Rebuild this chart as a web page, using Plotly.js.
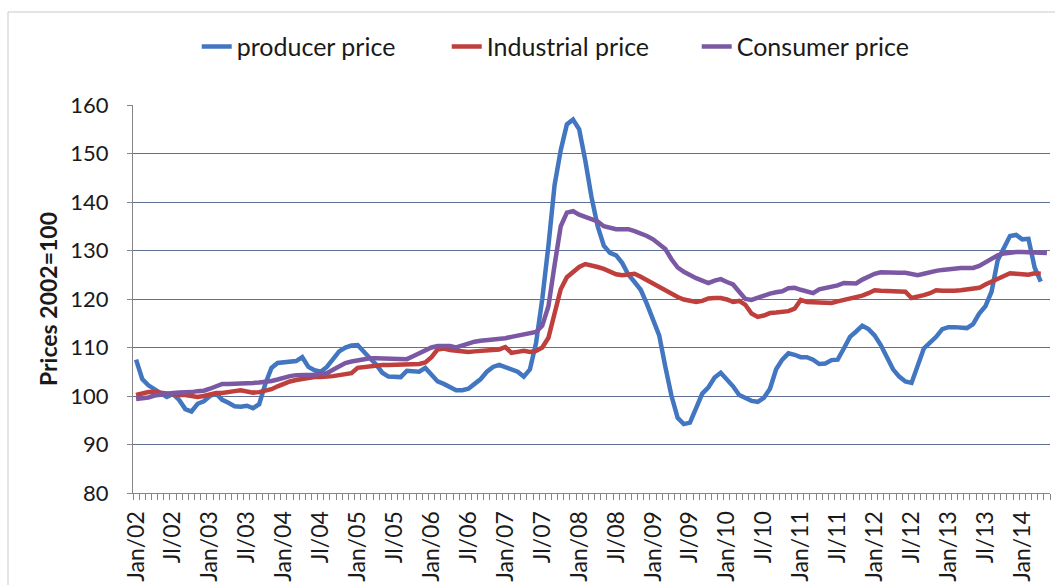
<!DOCTYPE html>
<html>
<head>
<meta charset="utf-8">
<script src="https://cdn.plot.ly/plotly-3.0.1.min.js"></script>
<style>
  html, body { margin: 0; padding: 0; background: #fff; }
  #chart { width: 1055px; height: 585px; }
</style>
</head>
<body>
<div id="chart"></div>
<script>
// monthly categories Jan/02 .. May/14
const monthNames = ['Jan', 'Feb', 'Mar', 'Apr', 'May', 'Jun', 'Jl', 'Aug', 'Sep', 'Oct', 'Nov', 'Dec']
const years = ['02', '03', '04', '05', '06', '07', '08', '09', '10', '11', '12', '13', '14']
const months = []
years.forEach(yy => monthNames.forEach(m => months.push(m + '/' + yy)))
months.length = 149

// only January and July are labelled
const tickLabels = months.map(m => (m.startsWith('Jan') || m.startsWith('Jl')) ? m : '')

const producerPrice = [
  107.5, 103.5, 102.2, 101.3, 100.6, 99.8, 100.4, 99.2, 97.3, 96.8, 98.4, 98.9,
  100.0, 100.5, 99.2, 98.6, 97.9, 97.8, 98.0, 97.5, 98.3, 102.5, 105.8, 106.8,
  107.0, 107.0, 107.2, 108.0, 106.0, 105.3, 105.0, 106.0, 107.8, 109.2, 110.0, 110.4,
  110.5, 109.0, 107.8, 106.5, 104.8, 104.0, 103.9, 103.9, 105.2, 105.2, 105.0, 105.8,
  104.5, 103.0, 102.5, 101.8, 101.2, 101.2, 101.5, 102.5, 103.5, 105.0, 106.0, 106.4,
  106.0, 105.6, 105.0, 104.0, 105.5, 111.0, 120.0, 131.0, 143.5, 150.7, 156.0, 157.0,
  155.0, 148.5, 141.0, 135.0, 131.0, 129.5, 129.0, 127.4, 125.0, 123.5, 121.9, 119.0,
  115.5, 112.5, 106.0, 100.0, 95.5, 94.2, 94.5, 97.5, 100.5, 101.8, 103.8, 104.8,
  103.5, 102.0, 100.2, 99.5, 99.0, 98.8, 99.6, 101.5, 105.5, 107.5, 108.8, 108.5,
  108.0, 108.0, 107.5, 106.6, 106.7, 107.4, 107.5, 109.8, 112.2, 113.3, 114.5, 113.8,
  112.5, 110.5, 108.2, 105.5, 104.0, 103.0, 102.7, 106.0, 109.8, 111.0, 112.2, 113.8,
  114.2, 114.2, 114.0, 114.0, 114.8, 117.0, 118.5, 121.5, 128.0, 130.5, 133.0, 133.2,
  132.3, 132.4, 126.5, 123.6
]

const industrialPrice = [
  100.2, 100.6, 100.8, 100.8, 100.6, 100.4, 100.2, 100.2, 100.2, 100.0, 99.8, 100.0,
  100.4, 100.6, 100.6, 100.7, 101.0, 101.2, 101.0, 100.7, 100.8, 101.0, 101.4, 102.0,
  102.6, 103.0, 103.3, 103.5, 103.9, 103.9, 103.9, 103.9, 104.1, 104.3, 104.5, 104.7,
  105.8, 106.0, 106.0, 106.2, 106.4, 106.4, 106.4, 106.4, 106.4, 106.4, 106.6, 106.9,
  108.0, 109.6, 109.8, 109.5, 109.3, 109.2, 109.1, 109.2, 109.3, 109.3, 109.5, 109.6,
  110.1, 108.9, 109.1, 109.3, 109.1, 109.3, 110.0, 112.0, 117.0, 122.0, 124.5, 125.5,
  126.6, 127.2, 127.0, 126.6, 126.2, 125.6, 125.1, 124.9, 125.1, 125.2, 124.6, 123.9,
  123.3, 122.6, 121.8, 121.0, 120.4, 119.9, 119.6, 119.4, 119.6, 120.1, 120.2, 120.2,
  119.9, 119.4, 119.6, 118.8, 117.0, 116.3, 116.6, 117.1, 117.2, 117.3, 117.5, 118.0,
  119.8, 119.4, 119.3, 119.2, 119.2, 119.2, 119.5, 119.8, 120.0, 120.3, 120.7, 121.2,
  121.8, 121.7, 121.6, 121.6, 121.6, 121.5, 120.2, 120.4, 120.8, 121.2, 121.8, 121.7,
  121.6, 121.7, 121.8, 121.9, 122.0, 122.3, 123.0, 123.6, 124.2, 124.8, 125.3, 125.2,
  125.0, 125.0, 125.3, 125.2
]

const consumerPrice = [
  99.4, 99.5, 99.7, 100.1, 100.3, 100.6, 100.6, 100.7, 100.7, 100.8, 101.0, 101.1,
  101.5, 102.0, 102.5, 102.5, 102.5, 102.5, 102.6, 102.7, 102.8, 102.9, 103.1, 103.4,
  103.8, 104.1, 104.3, 104.3, 104.3, 104.4, 104.6, 104.7, 105.4, 106.2, 106.8, 107.1,
  107.4, 107.7, 107.8, 107.8, 107.8, 107.8, 107.8, 107.7, 107.6, 108.2, 108.8, 109.6,
  110.0, 110.3, 110.3, 110.3, 110.0, 110.4, 111.0, 111.2, 111.4, 111.5, 111.5, 111.6,
  111.9, 112.2, 112.4, 112.6, 112.8, 113.2, 114.5, 118.5, 127.0, 135.0, 137.8, 138.1,
  137.4, 137.0, 136.4, 136.0, 135.0, 134.6, 134.4, 134.4, 134.4, 134.0, 133.6, 133.0,
  132.3, 131.4, 130.3, 128.2, 126.5, 125.6, 124.9, 124.3, 123.8, 123.3, 123.8, 124.1,
  123.5, 123.0, 121.5, 120.0, 119.8, 120.3, 120.8, 121.1, 121.4, 121.6, 122.2, 122.3,
  121.9, 121.5, 121.2, 122.0, 122.3, 122.4, 122.8, 123.3, 123.2, 123.2, 124.0, 124.6,
  125.2, 125.5, 125.4, 125.4, 125.4, 125.4, 125.1, 124.9, 125.2, 125.6, 125.8, 126.0,
  126.2, 126.3, 126.4, 126.4, 126.4, 126.8, 127.6, 128.4, 129.0, 129.4, 129.6, 129.7,
  129.7, 129.7, 129.7, 129.6, 129.5
]

const config = {
  responsive: false,
  displayModeBar: false,
  displaylogo: false,
  staticPlot: true
}

const font = 'Lato, "Open Sans", "DejaVu Sans", sans-serif'

const makeTrace = (values, name, color) => {
  return {
    x: months.slice(0, values.length),
    y: values,
    type: 'scatter',
    mode: 'lines',
    name: name,
    line: { color: color, width: 4.5, shape: 'linear' },
    hoverinfo: 'skip'
  }
}

const data = [
  makeTrace(producerPrice, 'producer price', '#4276c0'),
  makeTrace(industrialPrice, 'Industrial price', '#bf3f3d'),
  makeTrace(consumerPrice, 'Consumer price', '#7b58a3')
]

const layout = {
  width: 1055,
  height: 585,
  margin: { l: 133, r: 5, t: 105, b: 92 },
  paper_bgcolor: '#fff',
  plot_bgcolor: '#fff',
  font: { family: font, color: '#1a1a1a', size: 22 },
  showlegend: true,
  legend: {
    orientation: 'h',
    x: 0.0695,
    xanchor: 'left',
    y: 1.15,
    yanchor: 'middle',
    entrywidth: 205,
    entrywidthmode: 'pixels',
    font: { family: font, size: 25, color: '#1a1a1a' },
    bgcolor: 'rgba(0,0,0,0)'
  },
  xaxis: {
    type: 'category',
    categoryorder: 'array',
    categoryarray: months,
    range: [-0.5, months.length - 0.5],
    tickmode: 'array',
    tickvals: months,
    ticktext: tickLabels,
    tickson: 'boundaries',
    ticks: 'outside',
    ticklen: 6,
    tickcolor: '#868686',
    tickwidth: 1,
    tickangle: -90,
    ticklabelstandoff: 8,
    tickfont: { family: font, size: 23, color: '#1a1a1a' },
    showgrid: false,
    showline: true,
    linecolor: '#868686',
    linewidth: 1,
    zeroline: false,
    automargin: false,
    fixedrange: true
  },
  yaxis: {
    range: [80, 160],
    dtick: 10,
    tick0: 80,
    ticks: 'outside',
    ticklen: 5,
    tickcolor: '#868686',
    ticklabelstandoff: 14,
    tickfont: { family: font, size: 22, color: '#1a1a1a' },
    showgrid: true,
    gridcolor: '#5f6f96',
    gridwidth: 1,
    showline: true,
    linecolor: '#868686',
    linewidth: 1,
    zeroline: false,
    automargin: false,
    fixedrange: true,
    title: {
      text: '<b>Prices 2002=100</b>',
      font: { family: font, size: 23, color: '#1a1a1a' },
      standoff: 6
    }
  },
  // outer chart frame, partly cut by the picture edge
  shapes: [{
    type: 'rect',
    xref: 'paper',
    yref: 'paper',
    x0: -0.1363,
    x1: 1.05,
    y0: -0.5,
    y1: 1.2397,
    line: { color: '#c9c9c9', width: 1 },
    layer: 'below'
  }]
}

Plotly.newPlot('chart', data, layout, config)
</script>
</body>
</html>
